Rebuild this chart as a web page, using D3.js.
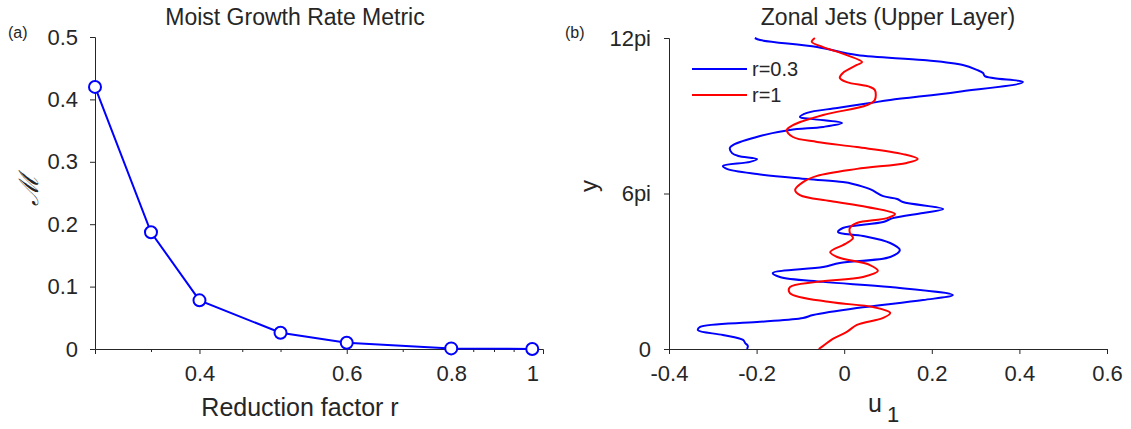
<!DOCTYPE html>
<html>
<head>
<meta charset="utf-8">
<script src="https://cdn.jsdelivr.net/npm/d3@7"></script>
<style>
  body { margin: 0; background: #fff; }
  svg text { font-family: "Liberation Sans", Arial, sans-serif; fill: #262626; }
</style>
</head>
<body>
<div id="chart"></div>
<script>
// Panel (a): growth rate metric vs reduction factor
const rValues = [0.3, 0.35, 0.4, 0.5, 0.6, 0.8, 1];
const metricValues = [0.42, 0.187, 0.078, 0.026, 0.010, 0.001, 0.0];
const metricTicks = [0, 0.1, 0.2, 0.3, 0.4, 0.5];
const rTicks = [0.4, 0.6, 0.8, 1];
const rMinorTicks = [0.35, 0.45, 0.5, 0.7, 0.85, 0.9, 0.95];

// Panel (b): zonal jets, y in units of pi, u1 values
const yBlue = [12.0, 11.92, 11.65, 11.34, 11.15, 10.96, 10.77, 10.65, 10.53, 10.30, 9.92, 9.61, 9.49, 9.30, 9.11,
  8.95, 8.87, 8.72, 8.57, 8.45, 8.22, 7.87, 7.76, 7.56, 7.45, 7.33, 7.22, 7.06, 6.95, 6.75, 6.56, 6.44, 6.37,
  6.17, 5.90, 5.79, 5.67, 5.40, 5.25, 5.05, 4.90, 4.67, 4.51, 4.36, 4.09, 3.82, 3.55, 3.32, 3.16, 2.93, 2.78,
  2.59, 2.39, 2.08, 1.89, 1.58, 1.31, 1.20, 1.04, 0.85, 0.73, 0.54, 0.35, 0.23, 0.12, 0];
const uBlue = [-0.204, -0.192, -0.062, 0.029, 0.180, 0.271, 0.303, 0.317, 0.321, 0.408, 0.258, 0.105, 0.059, -0.016, -0.085,
  -0.101, -0.071, -0.005, -0.048, -0.124, -0.192, -0.254, -0.261, -0.256, -0.242, -0.199, -0.215, -0.277, -0.268, -0.199, -0.085, -0.003, 0.020,
  0.059, 0.089, 0.121, 0.134, 0.226, 0.180, 0.111, 0.089, -0.003, -0.014, 0.043, 0.105, 0.127, 0.105, -0.010, -0.048, -0.163, -0.147,
  -0.048, 0.105, 0.248, 0.180, 0.029, -0.071, -0.094, -0.199, -0.329, -0.334, -0.277, -0.231, -0.226, -0.220, -0.222];

const yRed = [12.0, 11.85, 11.65, 11.34, 11.07, 10.96, 10.65, 10.46, 10.30, 10.11, 9.99, 9.61, 9.41, 9.03, 8.64,
  8.45, 8.18, 7.99, 7.79, 7.52, 7.33, 7.18, 6.95, 6.68, 6.44, 6.14, 5.94, 5.71, 5.48, 5.21, 5.05, 4.86, 4.67,
  4.48, 4.28, 4.09, 4.01, 3.74, 3.55, 3.24, 3.01, 2.78, 2.59, 2.39, 2.16, 1.81, 1.62, 1.39, 1.20, 0.93, 0.66,
  0.39, 0.12, 0];
const uRed = [-0.067, -0.074, -0.048, 0.006, 0.041, 0.029, -0.003, -0.010, 0.006, 0.059, 0.070, 0.070, 0.052, -0.048, -0.117,
  -0.131, -0.117, -0.062, 0.029, 0.134, 0.168, 0.143, 0.029, -0.062, -0.094, -0.112, -0.101, -0.032, 0.052, 0.116, 0.098, 0.029, 0.013,
  0.013, 0.020, 0.006, -0.003, -0.032, -0.016, 0.059, 0.077, 0.043, -0.062, -0.124, -0.124, -0.032, 0.066, 0.105, 0.089, 0.029, 0.006,
  -0.026, -0.048, -0.058];

const uTicks = [-0.4, -0.2, 0, 0.2, 0.4, 0.6];
const yTicks = [0, 6, 12];
const yTickLabels = ["0", "6pi", "12pi"];

const width = 1131, height = 429;
const plotTop = 37, plotBottom = 349;
const axisColor = "#262626";

// plain hyphen for negatives, like the original figure
const fmt = d => d3.format("~g")(d).replace("−", "-");

const svg = d3.select("#chart").append("svg")
  .attr("width", width)
  .attr("height", height);

// ---------- panel (a) ----------
const xA = d3.scaleLog().domain([0.3, 1.03]).range([95, 543]);
const yA = d3.scaleLinear().domain([0, 0.5]).range([plotBottom, plotTop]);

const gA = svg.append("g");

gA.append("g")
  .attr("transform", `translate(0,${plotBottom})`)
  .call(d3.axisBottom(xA).tickValues(rTicks).tickFormat(fmt).tickSizeOuter(0).tickSize(5).tickPadding(11));

gA.append("g")
  .attr("transform", `translate(0,${plotBottom})`)
  .call(d3.axisBottom(xA).tickValues(rMinorTicks).tickFormat("").tickSizeOuter(0).tickSize(3))
  .select(".domain").remove();

gA.append("g")
  .attr("transform", `translate(${xA(0.3)},0)`)
  .call(d3.axisLeft(yA).tickValues(metricTicks).tickFormat(fmt).tickSizeOuter(0).tickSize(5).tickPadding(12));

gA.append("path")
  .datum(rValues.map((r, i) => [r, metricValues[i]]))
  .attr("fill", "none")
  .attr("stroke", "#0000ff")
  .attr("stroke-width", 2)
  .attr("d", d3.line().x(d => xA(d[0])).y(d => yA(d[1])));

gA.selectAll("circle")
  .data(rValues.map((r, i) => [r, metricValues[i]]))
  .enter()
  .append("circle")
  .attr("cx", d => xA(d[0]))
  .attr("cy", d => yA(d[1]))
  .attr("r", 6)
  .attr("fill", "#fff")
  .attr("stroke", "#0000ff")
  .attr("stroke-width", 2);

gA.append("text").attr("x", 295).attr("y", 25).attr("text-anchor", "middle")
  .style("font-size", "23px").text("Moist Growth Rate Metric");
gA.append("text").attr("x", 300).attr("y", 416).attr("text-anchor", "middle")
  .style("font-size", "25px").text("Reduction factor r");
gA.append("text").attr("x", 8).attr("y", 38).style("font-size", "16px").text("(a)");
gA.append("text")
  .attr("transform", "translate(38,190) rotate(-90)")
  .attr("text-anchor", "middle")
  .style("font-size", "27px")
  .style("font-family", "'DejaVu Serif', serif")
  .style("font-style", "italic")
  .text("ℳ");

// ---------- panel (b) ----------
const xB = d3.scaleLinear().domain([-0.4, 0.6]).range([669, 1107]);
const yB = d3.scaleLinear().domain([0, 12]).range([plotBottom, plotTop + 1]);

const gB = svg.append("g");

gB.append("g")
  .attr("transform", `translate(0,${plotBottom})`)
  .call(d3.axisBottom(xB).tickValues(uTicks).tickFormat(fmt).tickSizeOuter(0).tickSize(5).tickPadding(11));

gB.append("g")
  .attr("transform", `translate(${xB(-0.4)},0)`)
  .call(d3.axisLeft(yB).tickValues(yTicks).tickFormat((d, i) => yTickLabels[i]).tickSizeOuter(0).tickSize(5).tickPadding(13));

const jetLine = d3.line().x(d => xB(d[0])).y(d => yB(d[1])).curve(d3.curveCatmullRom);

gB.append("path")
  .datum(uBlue.map((u, i) => [u, yBlue[i]]))
  .attr("fill", "none").attr("stroke", "#0000ff").attr("stroke-width", 2)
  .attr("d", jetLine);

gB.append("path")
  .datum(uRed.map((u, i) => [u, yRed[i]]))
  .attr("fill", "none").attr("stroke", "#ff0000").attr("stroke-width", 2)
  .attr("d", jetLine);

// legend
const legendItems = [["r=0.3", "#0000ff"], ["r=1", "#ff0000"]];
legendItems.forEach(([label, c], i) => {
  const ly = 69 + i * 26;
  gB.append("line").attr("x1", 692).attr("x2", 747).attr("y1", ly).attr("y2", ly)
    .attr("stroke", c).attr("stroke-width", 2);
  gB.append("text").attr("x", 752).attr("y", ly + 7).style("font-size", "20px").text(label);
});

gB.append("text").attr("x", 888).attr("y", 25).attr("text-anchor", "middle")
  .style("font-size", "23px").text("Zonal Jets (Upper Layer)");
gB.append("text").attr("x", 565).attr("y", 38).style("font-size", "16px").text("(b)");
gB.append("text")
  .attr("transform", "translate(597,186) rotate(-90)")
  .attr("text-anchor", "middle")
  .style("font-size", "24px")
  .text("y");
const uLabel = gB.append("text").attr("x", 868).attr("y", 412).style("font-size", "25px");
uLabel.append("tspan").text("u");
uLabel.append("tspan").attr("dx", 5).attr("dy", 10).style("font-size", "22px").text("1");

svg.selectAll(".tick text").style("font-size", "22px").attr("fill", axisColor);
svg.selectAll(".domain, .tick line").attr("stroke", axisColor);
</script>
</body>
</html>
